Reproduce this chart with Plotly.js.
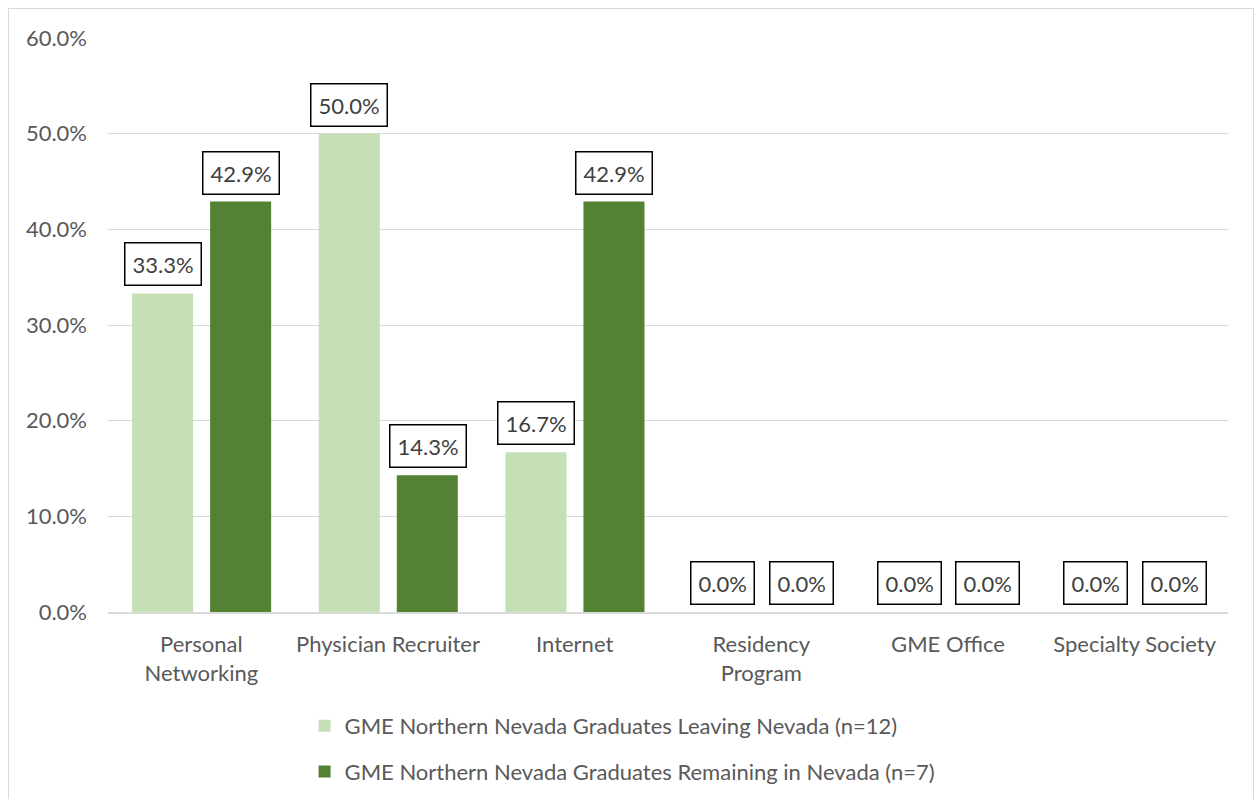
<!DOCTYPE html>
<html>
<head>
<meta charset="utf-8">
<script src="https://cdn.plot.ly/plotly-3.0.1.min.js"></script>
<style>
  html, body { margin: 0; padding: 0; background: #ffffff; overflow: hidden; }
  #wrap { position: relative; width: 1255px; height: 799px; overflow: hidden; }
  #chart { width: 1255px; height: 815px; }
  #frame { position: absolute; left: 8px; top: 8px; width: 1246px; height: 810px;
           border: 1px solid #d9d9d9; box-sizing: border-box; pointer-events: none; }
</style>
</head>
<body>
<div id="wrap">
  <div id="chart"></div>
  <div id="frame"></div>
</div>
<script>
// ---- data ----
const categories = [
  "Personal<br>Networking",
  "Physician Recruiter",
  "Internet",
  "Residency<br>Program",
  "GME Office",
  "Specialty Society"
];
const seriesNames = [
  "GME Northern Nevada Graduates Leaving Nevada (n=12)",
  "GME Northern Nevada Graduates Remaining in Nevada (n=7)"
];
const leavingValues   = [0.333, 0.500, 0.167, 0.0, 0.0, 0.0];
const remainingValues = [0.429, 0.143, 0.429, 0.0, 0.0, 0.0];
const yTickValues = [0, 0.1, 0.2, 0.3, 0.4, 0.5, 0.6];

// ---- styles ----
const FONT = "Lato, 'Open Sans', sans-serif";
const TEXT = "#595959";
const colors = ["#C5E0B4", "#548235"];
const barWidth = 0.327;
const offsets = [-0.371, 0.047];
const labelShift = [-38.8, 39.8]; // px from category centre to bar centre

const seriesValues = [leavingValues, remainingValues];

const traces = seriesValues.map((vals, i) => ({
  type: "bar",
  name: seriesNames[i],
  x: categories,
  y: vals,
  width: barWidth,
  offset: offsets[i],
  marker: { color: colors[i] },
  legendgroup: "g" + i,
  hoverinfo: "x+y"
}));

const annotations = [];
seriesValues.forEach((vals, i) => {
  vals.forEach((v, j) => {
    annotations.push({
      x: categories[j],
      y: v,
      xref: "x",
      yref: "y",
      text: (v * 100).toFixed(1) + "%",
      showarrow: false,
      xanchor: "center",
      yanchor: "bottom",
      xshift: labelShift[i],
      yshift: 7,
      font: { family: FONT, size: 22, color: "#404040" },
      bgcolor: "#ffffff",
      bordercolor: "#000000",
      borderwidth: 1.5,
      borderpad: 7
    });
  });
});

const layout = {
  width: 1255,
  height: 815,
  margin: { l: 108, r: 27, t: 38, b: 203 },
  paper_bgcolor: "#ffffff",
  plot_bgcolor: "#ffffff",
  font: { family: FONT, size: 22, color: TEXT },
  showlegend: true,
  legend: {
    orientation: "v",
    x: 0.1755,
    xanchor: "left",
    y: -0.162,
    yanchor: "top",
    font: { family: FONT, size: 22, color: TEXT },
    tracegroupgap: 14,
    bgcolor: "rgba(0,0,0,0)"
  },
  xaxis: {
    type: "category",
    automargin: false,
    tickfont: { family: FONT, size: 22, color: TEXT },
    showgrid: false,
    showline: true,
    linecolor: "#d9d9d9",
    linewidth: 1.5,
    ticks: "",
    ticklabelstandoff: 12,
    fixedrange: true
  },
  yaxis: {
    range: [0, 0.6],
    automargin: false,
    tickvals: yTickValues,
    tickformat: ".1%",
    tickfont: { family: FONT, size: 22, color: TEXT },
    showgrid: true,
    gridcolor: "#d9d9d9",
    gridwidth: 1,
    zeroline: false,
    showline: false,
    ticks: "",
    ticklabelstandoff: 20,
    fixedrange: true
  },
  annotations: annotations
};

Plotly.newPlot("chart", traces, layout, { displayModeBar: false, staticPlot: false });
</script>
</body>
</html>
